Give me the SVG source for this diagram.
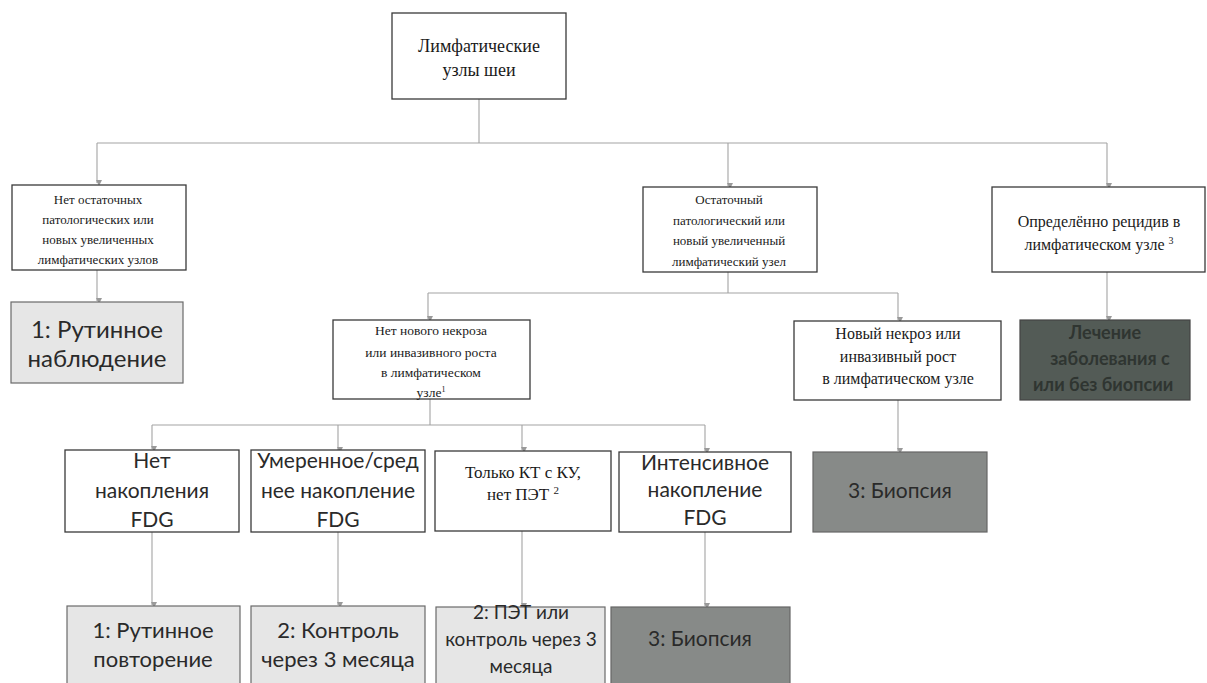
<svg xmlns="http://www.w3.org/2000/svg" width="1207" height="683" viewBox="0 0 1207 683">
<defs>
<style>
.bw{fill:#fff;stroke:#3a3a3a;stroke-width:1.3}
.bl{fill:#e6e6e6;stroke:#6a6a6a;stroke-width:1.2}
.bd{fill:#878a88;stroke:#666;stroke-width:1.2}
.bk{fill:#535b56;stroke:#444;stroke-width:1.2}
.ser{font-family:"Liberation Serif","DejaVu Serif",serif;fill:#1a1a1a;text-anchor:middle}
.san{font-family:"Lato","Open Sans","Liberation Sans",sans-serif;fill:#2a2a2a;text-anchor:middle}
.dk{font-family:"Lato","Open Sans","Liberation Sans",sans-serif;fill:#2f3531;text-anchor:middle;font-weight:bold}
.cn{fill:none;stroke:#a3a3a3;stroke-width:1.1}
</style>
<marker id="ar" markerWidth="8" markerHeight="8" refX="4" refY="6" orient="auto" markerUnits="userSpaceOnUse" viewBox="0 0 8 8">
<path d="M1,1 L7,1 L4,7 Z" fill="#9a9a9a" transform="rotate(-90 4 4)"/>
</marker>
<clipPath id="ck"><rect x="1020" y="320" width="170" height="80"/></clipPath>
</defs>

<g id="connectors">
<path class="cn" d="M479,99 V143 M97,143 H1107"/>
<path class="cn" d="M97,143 V183" marker-end="url(#ar)"/>
<path class="cn" d="M728,143 V186" marker-end="url(#ar)"/>
<path class="cn" d="M1107,143 V186" marker-end="url(#ar)"/>
<path class="cn" d="M97,270 V301" marker-end="url(#ar)"/>
<path class="cn" d="M728,272 V293 M428,293 H898"/>
<path class="cn" d="M428,293 V319" marker-end="url(#ar)"/>
<path class="cn" d="M898,293 V320" marker-end="url(#ar)"/>
<path class="cn" d="M1107,272 V319" marker-end="url(#ar)"/>
<path class="cn" d="M430,399 V425 M152,425 H705"/>
<path class="cn" d="M152,425 V449" marker-end="url(#ar)"/>
<path class="cn" d="M338,425 V450" marker-end="url(#ar)"/>
<path class="cn" d="M522,425 V450" marker-end="url(#ar)"/>
<path class="cn" d="M705,425 V451" marker-end="url(#ar)"/>
<path class="cn" d="M898,400 V451" marker-end="url(#ar)"/>
<path class="cn" d="M152,532 V605" marker-end="url(#ar)"/>
<path class="cn" d="M338,532 V605" marker-end="url(#ar)"/>
<path class="cn" d="M522,531 V606" marker-end="url(#ar)"/>
<path class="cn" d="M705,532 V606" marker-end="url(#ar)"/>
</g>

<g id="n-top">
<rect class="bw" x="392" y="13" width="174" height="86"/>
<text class="ser" font-size="18" x="479" y="52">Лимфатические</text>
<text class="ser" font-size="18" x="479" y="76">узлы шеи</text>
</g>

<g id="n-none">
<rect class="bw" x="12" y="185" width="174" height="85"/>
<text class="ser" font-size="13" x="98" y="204">Нет остаточных</text>
<text class="ser" font-size="13" x="98" y="224">патологических или</text>
<text class="ser" font-size="13" x="98" y="244">новых увеличенных</text>
<text class="ser" font-size="13" x="98" y="264">лимфатических узлов</text>
</g>

<g id="n-routine-obs">
<rect class="bl" x="11" y="302" width="172" height="81"/>
<text class="san" font-size="24" x="97" y="338">1: Рутинное</text>
<text class="san" font-size="24" x="97" y="367">наблюдение</text>
</g>

<g id="n-residual">
<rect class="bw" x="643" y="187" width="174" height="85"/>
<text class="ser" font-size="13" x="729" y="204">Остаточный</text>
<text class="ser" font-size="13" x="729" y="225">патологический или</text>
<text class="ser" font-size="13" x="729" y="245">новый увеличенный</text>
<text class="ser" font-size="13" x="729" y="266">лимфатический узел</text>
</g>

<g id="n-recur">
<rect class="bw" x="992" y="187" width="213" height="85"/>
<text class="ser" font-size="16" x="1099" y="227">Определённо рецидив в</text>
<text class="ser" font-size="16" x="1099" y="250">лимфатическом узле <tspan font-size="10" dy="-6">3</tspan></text>
</g>

<g id="n-treat">
<rect class="bk" x="1020" y="320" width="170" height="80"/>
<g clip-path="url(#ck)">
<text class="dk" font-size="18" x="1105" y="339">Лечение</text>
<text class="dk" font-size="18" x="1110" y="365">заболевания с</text>
<text class="dk" font-size="18" x="1103" y="391">или без биопсии</text>
</g>
</g>

<g id="n-nonecrosis">
<rect class="bw" x="333" y="320" width="197" height="79"/>
<text class="ser" font-size="13.5" x="431" y="335">Нет нового некроза</text>
<text class="ser" font-size="13.5" x="431" y="357">или инвазивного роста</text>
<text class="ser" font-size="13.5" x="431" y="377">в лимфатическом</text>
<text class="ser" font-size="13.5" x="431" y="397">узле<tspan font-size="8" dy="-5">1</tspan></text>
</g>

<g id="n-necrosis">
<rect class="bw" x="794" y="321" width="207" height="79"/>
<text class="ser" font-size="16" x="898" y="339">Новый некроз или</text>
<text class="ser" font-size="16" x="898" y="362">инвазивный рост</text>
<text class="ser" font-size="16" x="898" y="384">в лимфатическом узле</text>
</g>

<g id="n-nofdg">
<rect class="bw" x="65" y="450" width="174" height="82"/>
<text class="san" font-size="21" x="152" y="468">Нет</text>
<text class="san" font-size="21" x="152" y="498">накопления</text>
<text class="san" font-size="21" x="152" y="527">FDG</text>
</g>

<g id="n-modfdg">
<rect class="bw" x="251" y="450" width="174" height="82"/>
<text class="san" font-size="21" x="338" y="468">Умеренное/сред</text>
<text class="san" font-size="21" x="338" y="498">нее накопление</text>
<text class="san" font-size="21" x="338" y="527">FDG</text>
</g>

<g id="n-ctonly">
<rect class="bw" x="435" y="451" width="176" height="80"/>
<text class="ser" font-size="17" x="523" y="478">Только КТ с КУ,</text>
<text class="ser" font-size="17" x="523" y="500">нет ПЭТ <tspan font-size="11" dy="-6">2</tspan></text>
</g>

<g id="n-intfdg">
<rect class="bw" x="619" y="452" width="172" height="80"/>
<text class="san" font-size="21" x="705" y="470">Интенсивное</text>
<text class="san" font-size="21" x="705" y="497">накопление</text>
<text class="san" font-size="21" x="705" y="525">FDG</text>
</g>

<g id="n-biopsy1">
<rect class="bd" x="813" y="452" width="174" height="80"/>
<text class="san" font-size="21" x="900" y="498">3: Биопсия</text>
</g>

<g id="n-routine-rep">
<rect class="bl" x="67" y="606" width="173" height="90"/>
<text class="san" font-size="22" x="153" y="638">1: Рутинное</text>
<text class="san" font-size="22" x="153" y="667">повторение</text>
</g>

<g id="n-control3">
<rect class="bl" x="251" y="606" width="174" height="90"/>
<text class="san" font-size="22" x="338" y="638">2: Контроль</text>
<text class="san" font-size="22" x="338" y="667">через 3 месяца</text>
</g>

<g id="n-petcontrol">
<rect class="bl" x="436" y="607" width="169" height="90"/>
<text class="san" font-size="19" x="521" y="619">2: ПЭТ или</text>
<text class="san" font-size="19" x="521" y="646">контроль через 3</text>
<text class="san" font-size="19" x="521" y="673">месяца</text>
</g>

<g id="n-biopsy2">
<rect class="bd" x="611" y="607" width="179" height="90"/>
<text class="san" font-size="21" x="700" y="646">3: Биопсия</text>
</g>
</svg>
